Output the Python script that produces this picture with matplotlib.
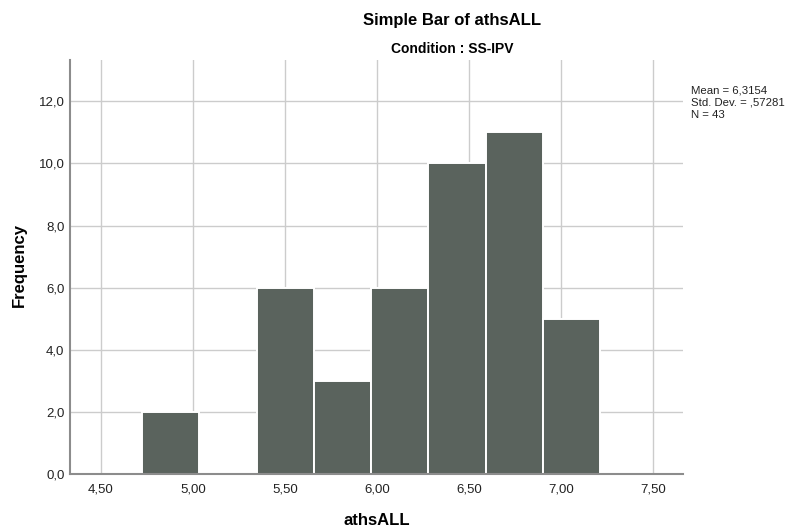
import matplotlib
matplotlib.use("Agg")
import matplotlib.pyplot as plt
import numpy as np

# histogram of athsALL, SS-IPV condition
bin_edges = [4.724, 5.035, 5.346, 5.657, 5.968, 6.279, 6.590, 6.901, 7.212]
counts = [2, 0, 6, 3, 6, 10, 11, 5]

x_ticks = [4.5, 5.0, 5.5, 6.0, 6.5, 7.0, 7.5]
x_tick_labels = ['4,50', '5,00', '5,50', '6,00', '6,50', '7,00', '7,50']
y_ticks = [0, 2, 4, 6, 8, 10, 12]
y_tick_labels = ['0,0', '2,0', '4,0', '6,0', '8,0', '10,0', '12,0']

stats_text = 'Mean = 6,3154\nStd. Dev. = ,57281\nN = 43'

plt.rcParams['font.family'] = ['Liberation Sans', 'DejaVu Sans']

fig = plt.figure(figsize=(7.87, 5.28), dpi=100)
ax = fig.add_axes([0.0889, 0.1023, 0.7789, 0.7833])

edges = np.array(bin_edges)
ax.bar(edges[:-1], counts, width=np.diff(edges), align='edge',
       color='#5a635d', edgecolor='white', linewidth=1.4, zorder=3)

ax.set_xlim(4.3315, 7.663)
ax.set_ylim(0, 13.32)
ax.set_xticks(x_ticks)
ax.set_xticklabels(x_tick_labels)
ax.set_yticks(y_ticks)
ax.set_yticklabels(y_tick_labels)
ax.tick_params(length=0, labelsize=9.5, labelcolor='#222222')
ax.tick_params(axis='x', pad=7)
ax.tick_params(axis='y', pad=4)

ax.grid(True, color='#cccccc', linewidth=1.0, zorder=0)
ax.set_axisbelow(True)
for side in ['top', 'right']:
    ax.spines[side].set_visible(False)
for side in ['left', 'bottom']:
    ax.spines[side].set_color('#8c8c8c')
    ax.spines[side].set_linewidth(1.5)
    ax.spines[side].set_zorder(4)

fig.text(0.574, 0.962, 'Simple Bar of athsALL', ha='center', va='center',
         fontsize=12, fontweight='bold')
fig.text(0.575, 0.907, 'Condition : SS-IPV', ha='center', va='center',
         fontsize=10, fontweight='bold')
fig.text(0.479, 0.006, 'athsALL', ha='center', va='baseline',
         fontsize=12, fontweight='bold')
fig.text(0.024, 0.498, 'Frequency', ha='center', va='center', rotation=90,
         fontsize=12, fontweight='bold')
fig.text(0.878, 0.839, stats_text, ha='left', va='top', fontsize=8.2,
         linespacing=1.3, color='#222222')

fig.savefig('out.png', dpi=100)
